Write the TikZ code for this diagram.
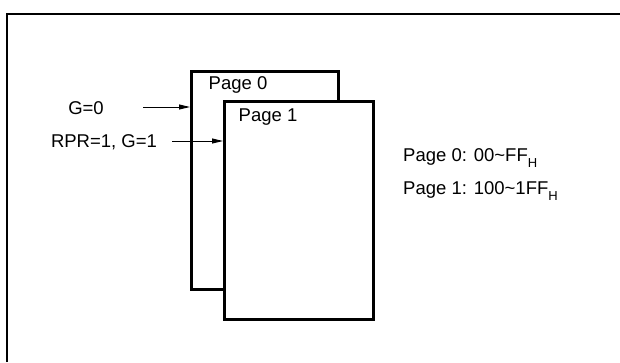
\documentclass[tikz,border=0pt]{standalone}
\usepackage{fontspec}
\setmainfont{Liberation Sans}
\usetikzlibrary{arrows.meta}
\newcommand{\subH}{\raisebox{-6.5pt}{\fontsize{13}{13}\selectfont H}}
\begin{document}
\begin{tikzpicture}[x=1pt,y=-1pt,
  lbl/.style={font=\fontsize{18.5}{21}\selectfont, inner sep=0pt},
  pagebox/.style={draw, line width=3pt, fill=white, inner sep=0pt, anchor=north west},
  arr/.style={line width=1pt, -{Triangle[length=11pt,width=5pt]}}]
\useasboundingbox (0,0) rectangle (620,362);
\draw[line width=2pt] (7,362) -- (7,13.5) -- (620,13.5);
\node[pagebox, minimum width=147pt, minimum height=218pt] (p0) at (190,70) {};
\node[pagebox, minimum width=149pt, minimum height=218pt] (p1) at (223,100) {};
\node[lbl] (t0) at (238,85) {Page 0};
\node[lbl] (t1) at (268,117) {Page 1};
\node[lbl] (g0) at (86,108) {G=0};
\node[lbl] (g1) at (104,142) {RPR=1, G=1};
\coordinate (a0) at (143,107);
\coordinate (a1) at (172,141);
\draw[arr] (a0) -- (a0 -| p0.west);
\draw[arr] (a1) -- (a1 -| p1.west);
\node[lbl, anchor=base west] (r0) at (403,161) {Page 0: 00\textasciitilde FF\subH};
\node[lbl, anchor=base west] (r1) at (403,194) {Page 1: 100\textasciitilde 1FF\subH};
\end{tikzpicture}
\end{document}
